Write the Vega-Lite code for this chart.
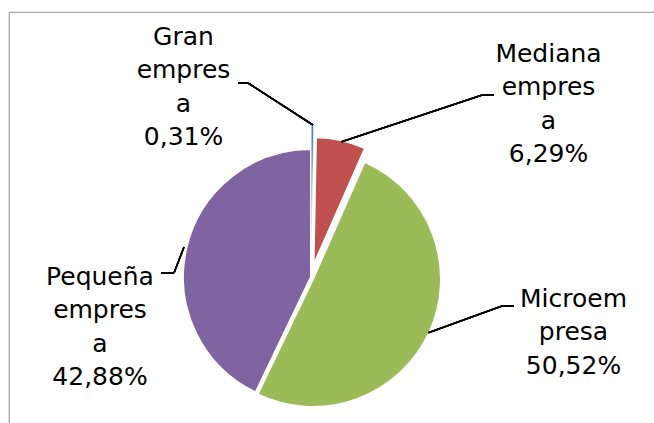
{
  "$schema": "https://vega.github.io/schema/vega-lite/v6.json",
  "width": 645,
  "height": 411,
  "autosize": "none",
  "padding": {"left": 9, "top": 12, "right": 0, "bottom": 0},
  "background": "white",
  "view": {"stroke": "#a6a6a6", "strokeWidth": 1.25, "strokeDash": [645, 1056, 411, 0], "fill": "white"},
  "config": {
    "text": {"font": "DejaVu Sans", "fontSize": 25, "lineHeight": 33.3, "align": "center", "baseline": "alphabetic", "color": "#000000"},
    "rule": {"color": "#000000", "strokeWidth": 1.5}
  },
  "data": {
    "values": [
      {"seg": "Gran empresa", "value": 0.31, "label": ["Gran", "empres", "a", "0,31%"]},
      {"seg": "Mediana empresa", "value": 6.29, "label": ["Mediana", "empres", "a", "6,29%"]},
      {"seg": "Microempresa", "value": 50.52, "label": ["Microem", "presa", "50,52%"]},
      {"seg": "Pequeña empresa", "value": 42.88, "label": ["Pequeña", "empres", "a", "42,88%"]}
    ]
  },
  "transform": [
    {"stack": "value", "groupby": [], "sort": [{"field": "seg", "order": "ascending"}], "as": ["t0", "t1"]}
  ],
  "layer": [
    {
      "encoding": {
        "theta": {"field": "t0", "type": "quantitative", "scale": {"domain": [0, 100], "range": [0, 6.283185307179586]}},
        "theta2": {"field": "t1"},
        "color": {
          "field": "seg", "type": "nominal", "legend": null,
          "scale": {"domain": ["Gran empresa", "Mediana empresa", "Microempresa", "Pequeña empresa"], "range": ["#4F81BD", "#C0504D", "#9BBB59", "#8064A2"]}
        }
      },
      "layer": [
        {"transform": [{"filter": "datum.seg === 'Pequeña empresa'"}], "mark": {"type": "arc", "radius": 128, "stroke": "white", "strokeWidth": 2, "xOffset": -20.5, "yOffset": 59.5}},
        {"transform": [{"filter": "datum.seg === 'Microempresa'"}], "mark": {"type": "arc", "radius": 128, "stroke": "white", "strokeWidth": 2, "xOffset": -18.5, "yOffset": 61.5}},
        {"transform": [{"filter": "datum.seg === 'Mediana empresa'"}], "mark": {"type": "arc", "radius": 128, "stroke": "white", "strokeWidth": 2, "xOffset": -18, "yOffset": 47.8}},
        {"transform": [{"filter": "datum.seg === 'Gran empresa'"}], "mark": {"type": "arc", "radius": 128, "stroke": "white", "strokeWidth": 0.6, "xOffset": -20.3, "yOffset": 36.5}}
      ]
    },
    {"mark": {"type": "rule"}, "encoding": {"x": {"value": 304}, "y": {"value": 113}, "x2": {"value": 239}, "y2": {"value": 71}}},
    {"mark": {"type": "rule"}, "encoding": {"x": {"value": 239}, "y": {"value": 71}, "x2": {"value": 229}, "y2": {"value": 71}}},
    {"mark": {"type": "rule"}, "encoding": {"x": {"value": 332.7}, "y": {"value": 129.7}, "x2": {"value": 473.3}, "y2": {"value": 83}}},
    {"mark": {"type": "rule"}, "encoding": {"x": {"value": 473.3}, "y": {"value": 83}, "x2": {"value": 485}, "y2": {"value": 83}}},
    {"mark": {"type": "rule"}, "encoding": {"x": {"value": 419.3}, "y": {"value": 320.7}, "x2": {"value": 493}, "y2": {"value": 294}}},
    {"mark": {"type": "rule"}, "encoding": {"x": {"value": 493}, "y": {"value": 294}, "x2": {"value": 505}, "y2": {"value": 294}}},
    {"mark": {"type": "rule"}, "encoding": {"x": {"value": 175}, "y": {"value": 235}, "x2": {"value": 165}, "y2": {"value": 261}}},
    {"mark": {"type": "rule"}, "encoding": {"x": {"value": 165}, "y": {"value": 261}, "x2": {"value": 152}, "y2": {"value": 261}}},
    {
      "encoding": {
        "theta": {"field": "t0", "type": "quantitative", "scale": {"domain": [0, 100], "range": [0, 6.283185307179586]}},
        "radius": {"value": 0},
        "text": {"field": "label"}
      },
      "layer": [
        {"transform": [{"filter": "datum.seg === 'Gran empresa'"}], "mark": {"type": "text", "xOffset": -20.5, "yOffset": 59.5, "dx": -127.5, "dy": -232}},
        {"transform": [{"filter": "datum.seg === 'Mediana empresa'"}], "mark": {"type": "text", "xOffset": -20.5, "yOffset": 59.5, "dx": 237.5, "dy": -215}},
        {"transform": [{"filter": "datum.seg === 'Microempresa'"}], "mark": {"type": "text", "xOffset": -20.5, "yOffset": 59.5, "dx": 262.5, "dy": 30}},
        {"transform": [{"filter": "datum.seg === 'Pequeña empresa'"}], "mark": {"type": "text", "xOffset": -20.5, "yOffset": 59.5, "dx": -211, "dy": 8}}
      ]
    }
  ]
}
